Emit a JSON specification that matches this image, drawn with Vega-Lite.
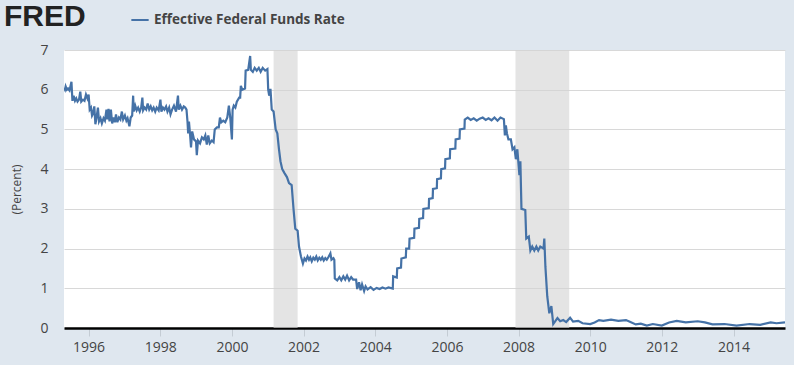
{
"$schema":"https://vega.github.io/schema/vega-lite/v6.json",
"width":721,"height":278,
"autosize":{"type":"none"},
"padding":{"left":64,"top":50,"right":9,"bottom":37},
"background":"#dfe7ef",
"view":{"fill":"#ffffff","stroke":null},
"title":{"text":"FRED","anchor":"start","frame":"group","dx":-60,"offset":-22,"font":"Liberation Sans","fontWeight":"bold","fontSize":30,"color":"#222222"},
"layer":[
{"data":{"values":[{"start":"2001-03-01","end":"2001-11-01"},{"start":"2007-12-01","end":"2009-06-01"}]},
"mark":{"type":"rect","fill":"#d4d4d4","opacity":0.62},
"encoding":{"x":{"field":"start","type":"temporal","scale":{"type":"utc","domain":["1995-04-25","2015-06-10"]},
"axis":{"title":null,"format":"%Y","tickCount":{"interval":"year","step":2},"grid":false,"domain":true,"domainColor":"#000000","domainWidth":2.5,"tickColor":"#c4ccd4","tickSize":8,"labelFont":"Open Sans","labelFontSize":14,"labelColor":"#444444","labelPadding":4,"labelFlush":false}},"x2":{"field":"end"}}},
{"data":{"values":[
{"date":"1995-04-25","rate":6.05},{"date":"1995-05-05","rate":6.0},{"date":"1995-05-12","rate":6.08},{"date":"1995-05-24","rate":6.0},{"date":"1995-06-05","rate":6.03},{"date":"1995-06-20","rate":5.98},{"date":"1995-07-10","rate":6.2},{"date":"1995-07-20","rate":5.72},{"date":"1995-08-01","rate":5.85},{"date":"1995-08-15","rate":5.72},{"date":"1995-08-28","rate":5.78},{"date":"1995-09-10","rate":5.7},{"date":"1995-09-25","rate":5.75},{"date":"1995-10-08","rate":5.95},{"date":"1995-10-18","rate":5.7},{"date":"1995-11-05","rate":5.75},{"date":"1995-11-20","rate":5.72},{"date":"1995-12-05","rate":5.88},{"date":"1995-12-20","rate":5.78},{"date":"1996-01-01","rate":5.88},{"date":"1996-01-12","rate":5.5},{"date":"1996-01-25","rate":5.55},{"date":"1996-02-05","rate":5.35},{"date":"1996-02-15","rate":5.4},{"date":"1996-02-28","rate":5.58},{"date":"1996-03-10","rate":5.13},{"date":"1996-03-22","rate":5.3},{"date":"1996-04-05","rate":5.55},{"date":"1996-04-16","rate":5.2},{"date":"1996-05-01","rate":5.28},{"date":"1996-05-15","rate":5.15},{"date":"1996-06-01","rate":5.28},{"date":"1996-06-15","rate":5.22},{"date":"1996-07-01","rate":5.5},{"date":"1996-07-10","rate":5.25},{"date":"1996-07-22","rate":5.52},{"date":"1996-08-01","rate":5.2},{"date":"1996-08-15","rate":5.5},{"date":"1996-08-28","rate":5.15},{"date":"1996-09-10","rate":5.3},{"date":"1996-09-24","rate":5.18},{"date":"1996-10-06","rate":5.38},{"date":"1996-10-20","rate":5.18},{"date":"1996-11-05","rate":5.3},{"date":"1996-11-20","rate":5.25},{"date":"1996-12-05","rate":5.45},{"date":"1996-12-18","rate":5.25},{"date":"1997-01-05","rate":5.35},{"date":"1997-01-20","rate":5.22},{"date":"1997-02-01","rate":5.28},{"date":"1997-02-20","rate":5.08},{"date":"1997-03-05","rate":5.3},{"date":"1997-03-20","rate":5.35},{"date":"1997-03-30","rate":5.85},{"date":"1997-04-05","rate":5.45},{"date":"1997-04-20","rate":5.6},{"date":"1997-05-05","rate":5.48},{"date":"1997-05-20","rate":5.55},{"date":"1997-06-05","rate":5.45},{"date":"1997-06-20","rate":5.55},{"date":"1997-07-02","rate":5.8},{"date":"1997-07-10","rate":5.48},{"date":"1997-07-25","rate":5.55},{"date":"1997-08-10","rate":5.5},{"date":"1997-08-25","rate":5.65},{"date":"1997-09-10","rate":5.5},{"date":"1997-09-25","rate":5.58},{"date":"1997-10-10","rate":5.48},{"date":"1997-10-25","rate":5.55},{"date":"1997-11-10","rate":5.45},{"date":"1997-11-25","rate":5.55},{"date":"1997-12-15","rate":5.48},{"date":"1998-01-02","rate":5.75},{"date":"1998-01-12","rate":5.45},{"date":"1998-01-28","rate":5.55},{"date":"1998-02-12","rate":5.5},{"date":"1998-03-01","rate":5.58},{"date":"1998-03-15","rate":5.45},{"date":"1998-04-01","rate":5.55},{"date":"1998-04-15","rate":5.38},{"date":"1998-05-01","rate":5.5},{"date":"1998-05-20","rate":5.6},{"date":"1998-06-10","rate":5.45},{"date":"1998-06-30","rate":5.85},{"date":"1998-07-08","rate":5.5},{"date":"1998-07-25","rate":5.6},{"date":"1998-08-10","rate":5.5},{"date":"1998-08-28","rate":5.58},{"date":"1998-09-12","rate":5.55},{"date":"1998-09-25","rate":5.5},{"date":"1998-10-05","rate":5.2},{"date":"1998-10-12","rate":4.9},{"date":"1998-10-20","rate":5.2},{"date":"1998-11-01","rate":4.85},{"date":"1998-11-10","rate":4.55},{"date":"1998-11-22","rate":4.95},{"date":"1998-12-10","rate":4.75},{"date":"1998-12-31","rate":4.7},{"date":"1999-01-08","rate":4.35},{"date":"1999-01-20","rate":4.72},{"date":"1999-02-10","rate":4.65},{"date":"1999-03-01","rate":4.8},{"date":"1999-03-20","rate":4.75},{"date":"1999-04-05","rate":4.85},{"date":"1999-04-20","rate":4.62},{"date":"1999-05-05","rate":4.85},{"date":"1999-05-20","rate":4.65},{"date":"1999-06-10","rate":4.72},{"date":"1999-06-28","rate":4.68},{"date":"1999-07-10","rate":5.0},{"date":"1999-08-01","rate":5.05},{"date":"1999-08-20","rate":5.05},{"date":"1999-09-01","rate":5.3},{"date":"1999-09-15","rate":5.18},{"date":"1999-10-05","rate":5.22},{"date":"1999-10-25","rate":5.18},{"date":"1999-11-15","rate":5.3},{"date":"1999-12-01","rate":5.6},{"date":"1999-12-15","rate":5.3},{"date":"2000-01-01","rate":4.75},{"date":"2000-01-08","rate":5.5},{"date":"2000-01-20","rate":5.6},{"date":"2000-02-05","rate":5.55},{"date":"2000-02-20","rate":5.7},{"date":"2000-03-15","rate":5.8},{"date":"2000-03-25","rate":5.8},{"date":"2000-04-01","rate":6.1},{"date":"2000-04-15","rate":6.0},{"date":"2000-05-14","rate":6.03},{"date":"2000-05-20","rate":6.48},{"date":"2000-06-15","rate":6.5},{"date":"2000-07-05","rate":6.85},{"date":"2000-07-12","rate":6.5},{"date":"2000-08-01","rate":6.45},{"date":"2000-08-20","rate":6.55},{"date":"2000-09-10","rate":6.48},{"date":"2000-10-01","rate":6.55},{"date":"2000-10-20","rate":6.45},{"date":"2000-11-10","rate":6.55},{"date":"2000-12-05","rate":6.48},{"date":"2000-12-28","rate":6.52},{"date":"2001-01-05","rate":6.0},{"date":"2001-01-15","rate":5.85},{"date":"2001-01-28","rate":6.02},{"date":"2001-02-10","rate":5.5},{"date":"2001-03-01","rate":5.45},{"date":"2001-03-22","rate":5.0},{"date":"2001-04-08","rate":4.9},{"date":"2001-04-25","rate":4.5},{"date":"2001-05-10","rate":4.2},{"date":"2001-05-28","rate":4.0},{"date":"2001-06-20","rate":3.9},{"date":"2001-07-15","rate":3.8},{"date":"2001-08-05","rate":3.65},{"date":"2001-09-01","rate":3.6},{"date":"2001-09-20","rate":3.0},{"date":"2001-10-08","rate":2.5},{"date":"2001-11-01","rate":2.45},{"date":"2001-11-15","rate":2.05},{"date":"2001-12-05","rate":1.8},{"date":"2001-12-25","rate":1.62},{"date":"2002-01-10","rate":1.75},{"date":"2002-01-25","rate":1.7},{"date":"2002-02-10","rate":1.8},{"date":"2002-02-25","rate":1.72},{"date":"2002-03-10","rate":1.78},{"date":"2002-03-25","rate":1.68},{"date":"2002-04-10","rate":1.77},{"date":"2002-04-25","rate":1.72},{"date":"2002-05-10","rate":1.8},{"date":"2002-05-25","rate":1.7},{"date":"2002-06-10","rate":1.77},{"date":"2002-06-25","rate":1.72},{"date":"2002-07-10","rate":1.78},{"date":"2002-07-25","rate":1.7},{"date":"2002-08-10","rate":1.76},{"date":"2002-08-25","rate":1.72},{"date":"2002-09-10","rate":1.78},{"date":"2002-10-01","rate":1.88},{"date":"2002-10-12","rate":1.72},{"date":"2002-11-01","rate":1.76},{"date":"2002-11-10","rate":1.72},{"date":"2002-11-15","rate":1.25},{"date":"2002-12-10","rate":1.2},{"date":"2003-01-01","rate":1.28},{"date":"2003-01-20","rate":1.2},{"date":"2003-02-10","rate":1.3},{"date":"2003-03-01","rate":1.22},{"date":"2003-03-20","rate":1.32},{"date":"2003-04-10","rate":1.2},{"date":"2003-05-01","rate":1.28},{"date":"2003-05-20","rate":1.22},{"date":"2003-06-20","rate":1.22},{"date":"2003-07-01","rate":0.98},{"date":"2003-07-20","rate":1.15},{"date":"2003-08-05","rate":0.95},{"date":"2003-08-20","rate":1.1},{"date":"2003-09-10","rate":0.93},{"date":"2003-09-25","rate":1.05},{"date":"2003-10-15","rate":0.97},{"date":"2003-11-15","rate":1.03},{"date":"2003-12-15","rate":0.96},{"date":"2004-01-15","rate":1.01},{"date":"2004-02-15","rate":0.98},{"date":"2004-03-15","rate":1.02},{"date":"2004-04-15","rate":0.99},{"date":"2004-05-15","rate":1.02},{"date":"2004-06-28","rate":0.99},{"date":"2004-07-02","rate":1.3},{"date":"2004-08-08","rate":1.27},{"date":"2004-08-12","rate":1.5},{"date":"2004-09-20","rate":1.52},{"date":"2004-09-24","rate":1.75},{"date":"2004-11-08","rate":1.78},{"date":"2004-11-12","rate":2.0},{"date":"2004-12-12","rate":2.0},{"date":"2004-12-16","rate":2.25},{"date":"2005-02-01","rate":2.27},{"date":"2005-02-04","rate":2.5},{"date":"2005-03-22","rate":2.52},{"date":"2005-03-25","rate":2.75},{"date":"2005-05-03","rate":2.77},{"date":"2005-05-06","rate":3.0},{"date":"2005-06-30","rate":3.02},{"date":"2005-07-03","rate":3.25},{"date":"2005-08-09","rate":3.27},{"date":"2005-08-12","rate":3.5},{"date":"2005-09-20","rate":3.52},{"date":"2005-09-23","rate":3.75},{"date":"2005-11-01","rate":3.77},{"date":"2005-11-04","rate":4.0},{"date":"2005-12-13","rate":4.02},{"date":"2005-12-16","rate":4.25},{"date":"2006-01-31","rate":4.27},{"date":"2006-02-03","rate":4.5},{"date":"2006-03-28","rate":4.52},{"date":"2006-03-31","rate":4.75},{"date":"2006-05-10","rate":4.77},{"date":"2006-05-13","rate":5.0},{"date":"2006-06-29","rate":5.02},{"date":"2006-07-02","rate":5.25},{"date":"2006-08-01","rate":5.3},{"date":"2006-09-01","rate":5.24},{"date":"2006-10-01","rate":5.28},{"date":"2006-11-01","rate":5.22},{"date":"2006-12-01","rate":5.27},{"date":"2007-01-01","rate":5.3},{"date":"2007-02-01","rate":5.24},{"date":"2007-03-01","rate":5.28},{"date":"2007-04-01","rate":5.23},{"date":"2007-05-01","rate":5.3},{"date":"2007-06-01","rate":5.22},{"date":"2007-07-01","rate":5.3},{"date":"2007-08-05","rate":5.26},{"date":"2007-08-15","rate":4.85},{"date":"2007-08-25","rate":5.1},{"date":"2007-09-05","rate":4.9},{"date":"2007-09-20","rate":4.75},{"date":"2007-10-15","rate":4.75},{"date":"2007-11-01","rate":4.5},{"date":"2007-11-20","rate":4.55},{"date":"2007-12-05","rate":4.25},{"date":"2007-12-20","rate":4.5},{"date":"2008-01-10","rate":3.85},{"date":"2008-01-20","rate":4.2},{"date":"2008-01-31","rate":3.0},{"date":"2008-03-10","rate":2.97},{"date":"2008-03-20","rate":2.25},{"date":"2008-04-15","rate":2.3},{"date":"2008-05-01","rate":1.95},{"date":"2008-05-20","rate":2.05},{"date":"2008-06-10","rate":1.95},{"date":"2008-07-01","rate":2.05},{"date":"2008-07-20","rate":1.95},{"date":"2008-08-10","rate":2.05},{"date":"2008-09-12","rate":2.0},{"date":"2008-09-20","rate":2.25},{"date":"2008-10-01","rate":1.55},{"date":"2008-10-20","rate":0.8},{"date":"2008-11-10","rate":0.37},{"date":"2008-12-01","rate":0.55},{"date":"2008-12-20","rate":0.1},{"date":"2009-02-01","rate":0.25},{"date":"2009-03-01","rate":0.17},{"date":"2009-04-01","rate":0.2},{"date":"2009-05-01","rate":0.15},{"date":"2009-06-10","rate":0.26},{"date":"2009-07-10","rate":0.16},{"date":"2009-09-01","rate":0.18},{"date":"2009-10-15","rate":0.12},{"date":"2010-01-01","rate":0.1},{"date":"2010-02-15","rate":0.14},{"date":"2010-04-01","rate":0.2},{"date":"2010-05-15","rate":0.18},{"date":"2010-08-01","rate":0.21},{"date":"2010-10-15","rate":0.18},{"date":"2011-01-01","rate":0.2},{"date":"2011-02-15","rate":0.15},{"date":"2011-04-10","rate":0.09},{"date":"2011-06-01","rate":0.11},{"date":"2011-08-01","rate":0.06},{"date":"2011-10-01","rate":0.1},{"date":"2012-01-01","rate":0.06},{"date":"2012-03-15","rate":0.14},{"date":"2012-06-01","rate":0.18},{"date":"2012-09-01","rate":0.14},{"date":"2013-01-01","rate":0.17},{"date":"2013-03-15","rate":0.14},{"date":"2013-06-01","rate":0.09},{"date":"2013-10-01","rate":0.1},{"date":"2014-02-01","rate":0.06},{"date":"2014-06-15","rate":0.1},{"date":"2014-10-01","rate":0.08},{"date":"2015-01-15","rate":0.14},{"date":"2015-03-15","rate":0.12},{"date":"2015-06-10","rate":0.14}
]},
"mark":{"type":"line","strokeWidth":2.2,"clip":true},
"encoding":{"x":{"field":"date","type":"temporal"},
"y":{"field":"rate","type":"quantitative","scale":{"domain":[0,7]},"axis":{"title":"(Percent)","titleFont":"Open Sans","titleFontWeight":"normal","titleFontSize":12,"titleColor":"#444444","titlePadding":16,"values":[0,1,2,3,4,5,6,7],"domain":false,"ticks":false,"grid":true,"gridColor":"#d8d8d8","labelFont":"Open Sans","labelFontSize":14,"labelColor":"#444444","labelPadding":16}},
"color":{"datum":"Effective Federal Funds Rate","scale":{"range":["#4572a7"]},"legend":{"title":null,"orient":"none","legendX":66,"legendY":-40,"symbolType":"stroke","symbolSize":300,"symbolStrokeWidth":2,"labelFont":"Open Sans","labelFontWeight":"bold","labelFontSize":13.5,"labelColor":"#444444","labelLimit":300}}}}
]
}
